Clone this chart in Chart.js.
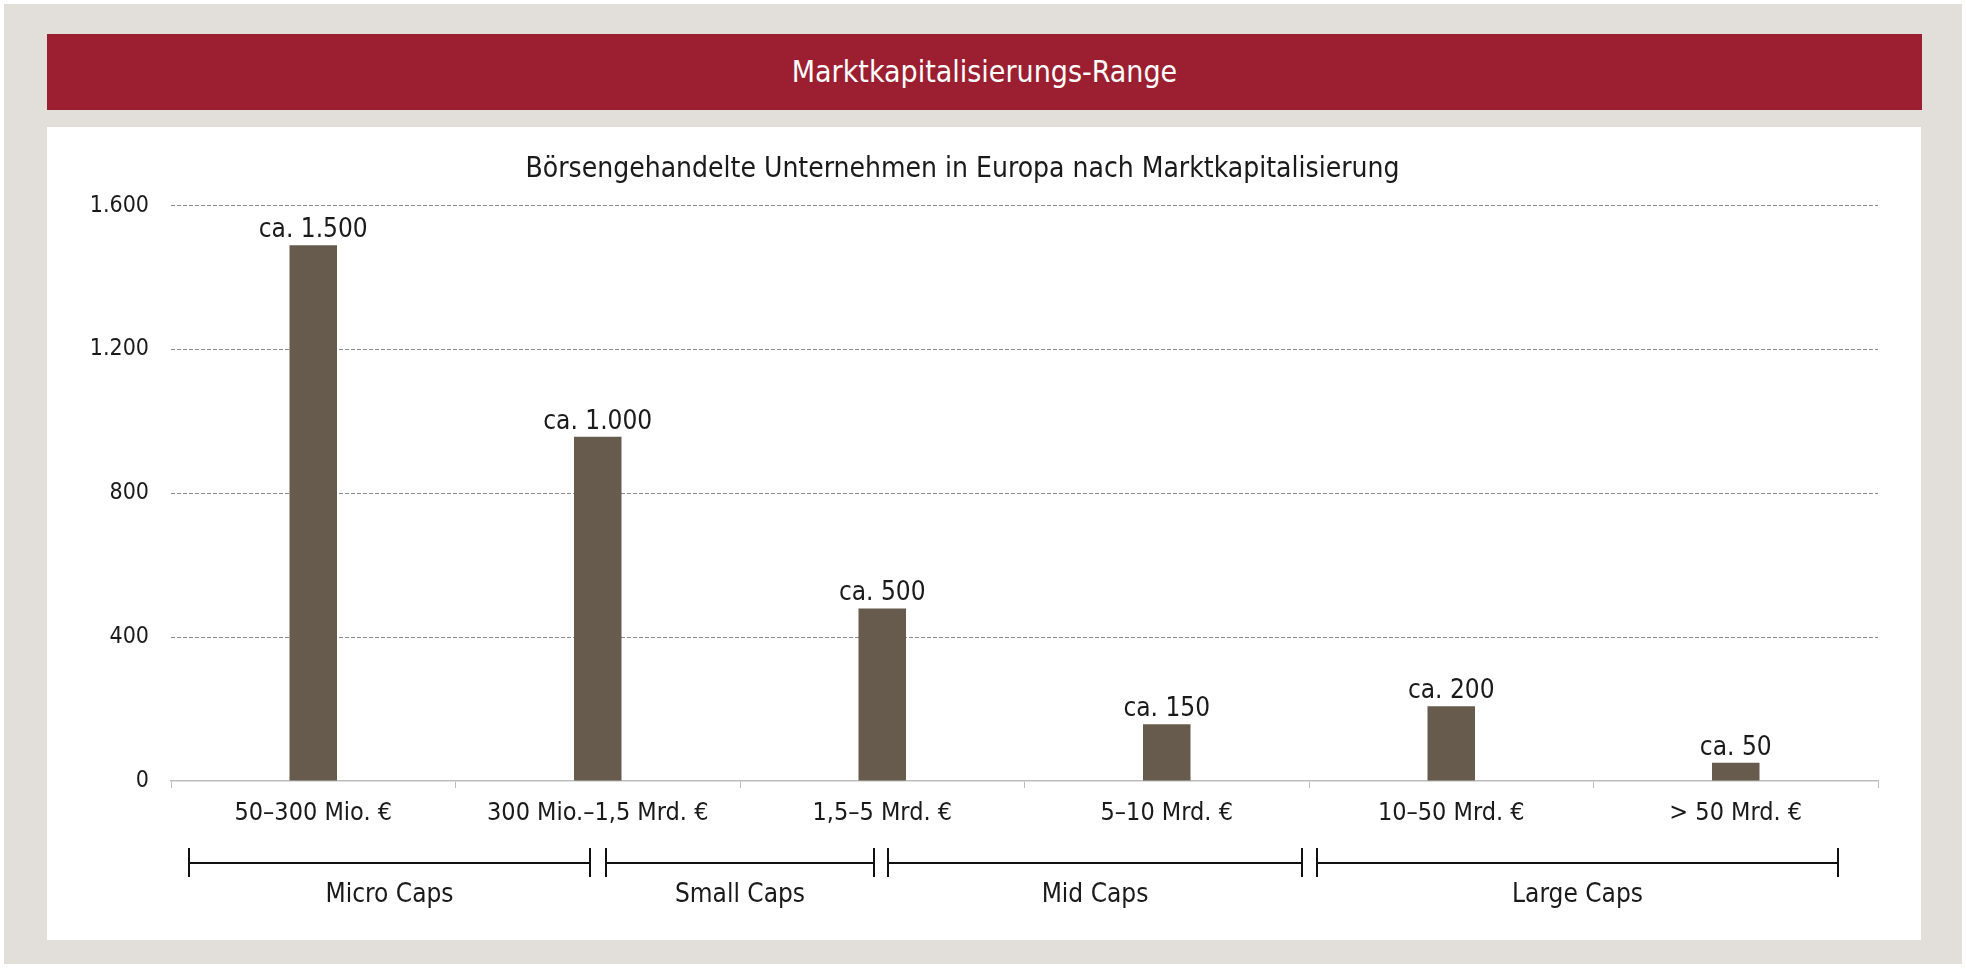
<!DOCTYPE html>
<html>
<head>
    <title>Marktkapitalisierungs-Range</title>
    <script src="https://cdn.jsdelivr.net/npm/chart.js"></script>
    <style>
        body {
            margin: 0;
            background-color: #ffffff;
            font-family: "Liberation Sans Narrow", "DejaVu Sans Condensed", sans-serif;
        }

        #frame {
            position: absolute;
            left: 4px;
            top: 4px;
            width: 1958px;
            height: 960px;
            background-color: #e2ded9;
        }

        #header {
            position: absolute;
            left: 43px;
            top: 30px;
            width: 1875px;
            height: 76px;
            background-color: #9b1f31;
            color: white;
            font-size: 30px;
            line-height: 76px;
            text-align: center;
        }

        #panel {
            position: absolute;
            left: 43px;
            top: 123px;
            width: 1874px;
            height: 813px;
            background-color: white;
        }
    </style>
</head>
<body>
    <div id="frame">
        <div id="header">Marktkapitalisierungs-Range</div>
        <div id="panel">
            <canvas id="capChart" width="1874" height="813"></canvas>
        </div>
    </div>

    <script>
        const fontFamily = '"Liberation Sans Narrow", "DejaVu Sans Condensed", sans-serif';

        const categories = [
            "50–300 Mio. €", "300 Mio.–1,5 Mrd. €", "1,5–5 Mrd. €",
            "5–10 Mrd. €", "10–50 Mrd. €", "> 50 Mrd. €"
        ];

        const companies = [1490, 957, 480, 158, 208, 51];

        const valueLabels = ["ca. 1.500", "ca. 1.000", "ca. 500", "ca. 150", "ca. 200", "ca. 50"];

        const yTicks = [0, 400, 800, 1200, 1600];

        // Klammern unter der Achse, in Kategorie-Einheiten
        const groupLabels = ["Micro Caps", "Small Caps", "Mid Caps", "Large Caps"];
        const groupStart = [-0.437, 1.028, 2.021, 3.528];
        const groupEnd = [0.973, 1.970, 3.475, 5.361];

        const barLabels = {
            id: 'barLabels',
            afterDatasetsDraw(chart) {
                const ctx = chart.ctx;
                const meta = chart.getDatasetMeta(0);
                ctx.save();
                ctx.font = '26px ' + fontFamily;
                ctx.fillStyle = '#1a1a1a';
                ctx.textAlign = 'center';
                ctx.textBaseline = 'alphabetic';
                meta.data.forEach((bar, i) => {
                    ctx.fillText(valueLabels[i], bar.x, bar.y - 8);
                });
                ctx.restore();
            }
        };

        const groupBrackets = {
            id: 'groupBrackets',
            afterDraw(chart) {
                const ctx = chart.ctx;
                const x = chart.scales.x;
                const y = chart.chartArea.bottom + 82;
                ctx.save();
                ctx.strokeStyle = '#111111';
                ctx.lineWidth = 2;
                ctx.font = '26px ' + fontFamily;
                ctx.fillStyle = '#1a1a1a';
                ctx.textAlign = 'center';
                ctx.textBaseline = 'middle';
                groupLabels.forEach((label, i) => {
                    const x0 = Math.round(x.getPixelForValue(groupStart[i]));
                    const x1 = Math.round(x.getPixelForValue(groupEnd[i]));
                    ctx.beginPath();
                    ctx.moveTo(x0, y);
                    ctx.lineTo(x1, y);
                    ctx.moveTo(x0, y - 15);
                    ctx.lineTo(x0, y + 14);
                    ctx.moveTo(x1, y - 15);
                    ctx.lineTo(x1, y + 14);
                    ctx.stroke();
                    ctx.fillText(label, (x0 + x1) / 2, y + 32);
                });
                ctx.restore();
            }
        };

        const ctx = document.getElementById('capChart').getContext('2d');
        new Chart(ctx, {
            type: 'bar',
            data: {
                labels: categories,
                datasets: [{
                    label: 'Unternehmen',
                    data: companies,
                    backgroundColor: '#675b4e',
                    borderWidth: 0,
                    barPercentage: 0.167,
                    categoryPercentage: 1
                }]
            },
            options: {
                responsive: false,
                animation: false,
                layout: {
                    padding: { left: 0, right: 43, top: 0, bottom: 102 }
                },
                scales: {
                    x: {
                        offset: true,
                        grid: {
                            offset: true,
                            drawOnChartArea: false,
                            color: '#bdbdbd',
                            tickLength: 7
                        },
                        border: {
                            color: '#bdbdbd',
                            width: 1.5
                        },
                        ticks: {
                            color: '#1a1a1a',
                            padding: 10,
                            maxRotation: 0,
                            font: { family: fontFamily, size: 25 }
                        }
                    },
                    y: {
                        min: 0,
                        max: 1600,
                        afterFit(scale) {
                            scale.width = 124;
                        },
                        afterBuildTicks(scale) {
                            scale.ticks = yTicks.map(v => ({ value: v }));
                        },
                        grid: {
                            drawTicks: false,
                            color: (c) => c.tick && c.tick.value === 0 ? 'rgba(0,0,0,0)' : '#8e8e8e',
                            lineWidth: 1
                        },
                        border: {
                            display: false,
                            dash: [4, 2]
                        },
                        ticks: {
                            color: '#1a1a1a',
                            padding: 22,
                            font: { family: fontFamily, size: 23 },
                            callback: (v) => v.toLocaleString('de-DE')
                        }
                    }
                },
                plugins: {
                    legend: { display: false },
                    tooltip: { enabled: false },
                    title: {
                        display: true,
                        text: 'Börsengehandelte Unternehmen in Europa nach Marktkapitalisierung',
                        color: '#1a1a1a',
                        font: { family: fontFamily, size: 28, weight: 'normal' },
                        padding: { top: 26, bottom: 19 }
                    }
                }
            },
            plugins: [barLabels, groupBrackets]
        });
    </script>
</body>
</html>
